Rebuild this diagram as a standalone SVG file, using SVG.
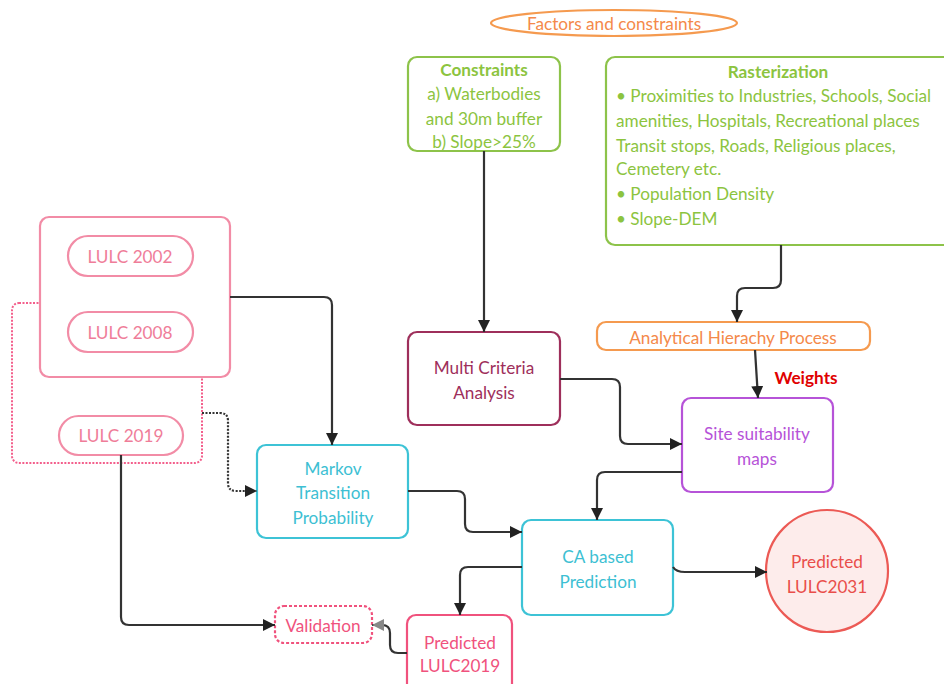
<svg xmlns="http://www.w3.org/2000/svg" width="944" height="684" viewBox="0 0 944 684">
<style>
text{font-family:Lato,"Open Sans","Liberation Sans",sans-serif;font-size:17.2px;text-anchor:middle;dominant-baseline:central}
.box{fill:#fff;stroke-width:2.2}
.g{fill:#8cc43f}
.gl{fill:#8cc43f;text-anchor:start}
.pk{fill:#ef7d99}
.cy{fill:#3dbfd3}
.con{fill:none;stroke:#333;stroke-width:2.2}
</style>
<defs>
<marker id="ah" markerUnits="userSpaceOnUse" markerWidth="14" markerHeight="14" refX="12" refY="6" orient="auto"><path d="M0,0 L12,6 L0,12 z" fill="#222"/></marker>
<marker id="ahg" markerUnits="userSpaceOnUse" markerWidth="14" markerHeight="14" refX="12" refY="6" orient="auto"><path d="M0,0 L12,6 L0,12 z" fill="#888"/></marker>
</defs>
<rect width="944" height="684" fill="#fff"/>

<g id="factors">
<ellipse cx="614" cy="23" rx="123" ry="13" fill="#fff" stroke="#f59a4f" stroke-width="2.2"/>
<text x="614" y="23" fill="#f4894a" font-size="17">Factors and constraints</text>
</g>

<g id="constraints">
<rect class="box" x="408" y="57" width="152" height="94" rx="9" stroke="#8dc34a"/>
<text x="484" y="69" class="g" font-weight="bold">Constraints</text>
<text x="484" y="93" class="g">a) Waterbodies</text>
<text x="484" y="118" class="g">and 30m buffer</text>
<text x="484" y="141" class="g">b) Slope&gt;25%</text>
</g>

<g id="rasterization">
<rect class="box" x="606" y="57" width="350" height="188" rx="9" stroke="#8dc34a"/>
<text x="778" y="71" class="g" font-weight="bold">Rasterization</text>
<text x="616" y="95" class="gl">• Proximities to Industries, Schools, Social</text>
<text x="616" y="120" class="gl">amenities, Hospitals, Recreational places</text>
<text x="616" y="145" class="gl">Transit stops, Roads, Religious places,</text>
<text x="616" y="168" class="gl">Cemetery etc.</text>
<text x="616" y="193" class="gl">• Population Density</text>
<text x="616" y="218" class="gl">• Slope-DEM</text>
</g>

<g id="ahp">
<rect class="box" x="597" y="322" width="273" height="28" rx="9" stroke="#f59a4f"/>
<text x="733" y="337" fill="#f4894a">Analytical Hierachy Process</text>
</g>

<g id="mca">
<rect class="box" x="408" y="332" width="152" height="93" rx="9" stroke="#9e2f5b"/>
<text x="484" y="367" fill="#9e2f5b">Multi Criteria</text>
<text x="484" y="392" fill="#9e2f5b">Analysis</text>
</g>

<g id="site">
<rect class="box" x="682" y="398" width="151" height="94" rx="9" stroke="#b653d8"/>
<text x="757" y="433" fill="#b653d8">Site suitability</text>
<text x="757" y="458" fill="#b653d8">maps</text>
</g>

<g id="lulc-group">
<rect x="12" y="303" width="190" height="160" rx="7" fill="none" stroke="#f35f8c" stroke-width="2" stroke-dasharray="2,1.5"/>
<rect class="box" x="40" y="217" width="190" height="160" rx="9" stroke="#f28ca6"/>
</g>
<g id="lulc2002">
<rect class="box" x="68" y="236" width="125" height="40" rx="20" stroke="#f28ca6"/>
<text x="130" y="256" class="pk" font-size="17.5">LULC 2002</text>
</g>
<g id="lulc2008">
<rect class="box" x="68" y="312" width="125" height="40" rx="20" stroke="#f28ca6"/>
<text x="130" y="332" class="pk" font-size="17.5">LULC 2008</text>
</g>
<g id="lulc2019">
<rect class="box" x="59" y="416" width="124" height="39" rx="19.5" stroke="#f28ca6"/>
<text x="121" y="435" class="pk" font-size="17.5">LULC 2019</text>
</g>

<g id="markov">
<rect class="box" x="257" y="445" width="151" height="93" rx="9" stroke="#3dc3d6"/>
<text x="333" y="468" class="cy">Markov</text>
<text x="333" y="492" class="cy">Transition</text>
<text x="333" y="517" class="cy">Probability</text>
</g>

<g id="ca">
<rect class="box" x="522" y="520" width="151" height="95" rx="9" stroke="#3dc3d6"/>
<text x="598" y="556" class="cy">CA based</text>
<text x="598" y="581" class="cy">Prediction</text>
</g>

<g id="pred2031">
<circle cx="827" cy="571" r="61" fill="#fdeceb" stroke="#ec5a55" stroke-width="2.2"/>
<text x="827" y="561" fill="#e94e4a">Predicted</text>
<text x="827" y="586" fill="#e94e4a">LULC2031</text>
</g>

<g id="pred2019">
<rect class="box" x="407" y="615" width="105" height="80" rx="9" stroke="#f0527d"/>
<text x="460" y="642" fill="#f0527d">Predicted</text>
<text x="460" y="665" fill="#f0527d">LULC2019</text>
</g>

<g id="validation">
<rect class="box" x="275" y="606" width="97" height="37" rx="9" stroke="#f0527d" stroke-dasharray="3,2"/>
<text x="323" y="625" fill="#f0527d">Validation</text>
</g>

<text id="weights" x="806" y="377" fill="#e00000" font-weight="bold" font-size="14.5">Weights</text>

<g id="connectors">
<path class="con" d="M484,151 V332" marker-end="url(#ah)"/>
<path class="con" d="M781,245 V280 q0,8 -8,8 H745 q-8,0 -8,8 V322" marker-end="url(#ah)"/>
<path class="con" d="M755,350 L758,398" marker-end="url(#ah)"/>
<path class="con" d="M560,379 H612 q8,0 8,8 V436 q0,8 8,8 H682" marker-end="url(#ah)"/>
<path class="con" d="M682,472 H605 q-8,0 -8,8 V520" marker-end="url(#ah)"/>
<path class="con" d="M230,297 H324 q8,0 8,8 V445" marker-end="url(#ah)"/>
<path class="con" d="M202,413 H220 q8,0 8,8 V483 q0,8 8,8 H257" stroke="#555" stroke-dasharray="2,1.5" marker-end="url(#ah)"/>
<path class="con" d="M408,491 H457 q8,0 8,8 V524 q0,8 8,8 H522" marker-end="url(#ah)"/>
<path class="con" d="M673,567 q3,5 12,5 H767" marker-end="url(#ah)"/>
<path class="con" d="M522,567 H468 q-8,0 -8,8 V615" marker-end="url(#ah)"/>
<path class="con" d="M121,455 V617 q0,8 8,8 H275" marker-end="url(#ah)"/>
<path class="con" d="M407,653 H398 q-8,0 -8,-8 V633 q0,-8 -8,-8 H372" stroke="#888" marker-end="url(#ahg)"/>
</g>
</svg>
